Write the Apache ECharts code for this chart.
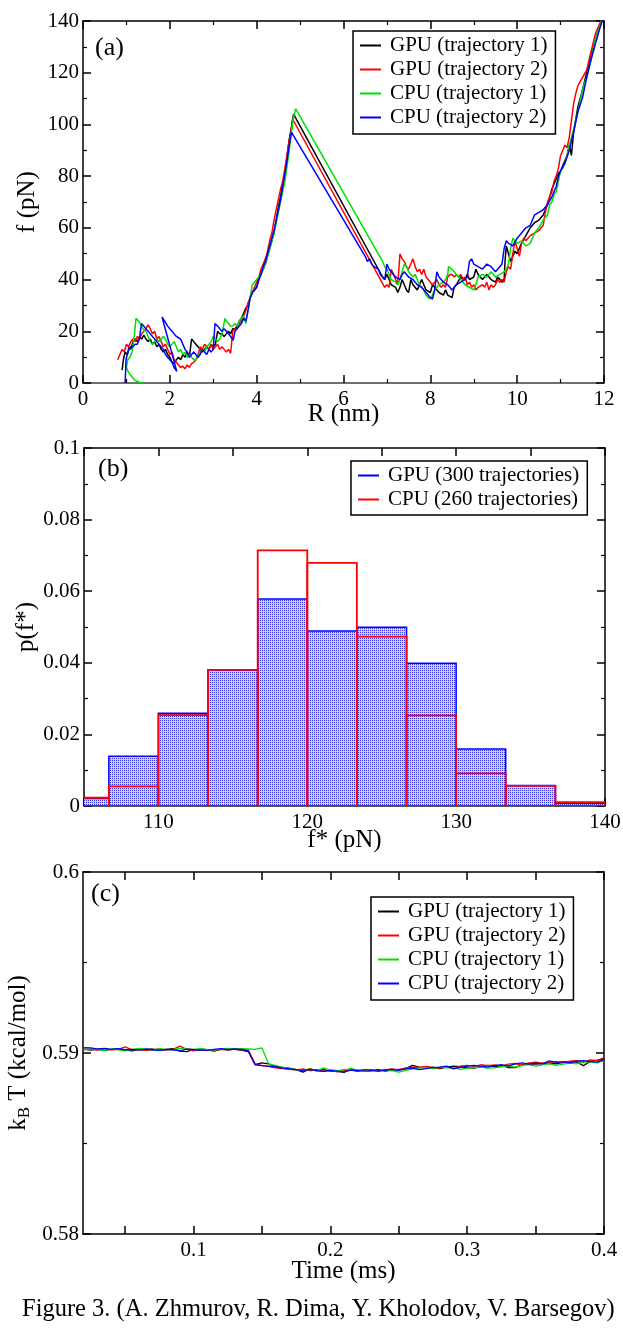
<!DOCTYPE html>
<html><head><meta charset="utf-8">
<script src="https://cdn.jsdelivr.net/npm/echarts@6/dist/echarts.min.js"></script>
<style>html,body{margin:0;padding:0;background:#fff}#c{width:623px;height:1333px}</style>
</head><body><div id="c"></div>
<script>
// ---------- Panel (a): force f (pN) vs end-to-end distance R (nm), [R, f] pairs ----------
const gpuTraj1 = [[0.9,5],[0.93,9],[0.97,12],[1.02,11],[1.06,14],[1.1,13],[1.15,16],[1.2,17],[1.25,16],[1.3,18],[1.35,17],[1.4,18.5],[1.45,17],[1.5,16],[1.55,17],[1.6,15],[1.65,16],[1.7,14],[1.75,15],[1.8,13],[1.85,12],[1.9,13],[1.95,11],[2.0,10],[2.05,8],[2.1,7.5],[2.15,9],[2.2,10],[2.25,9],[2.3,11],[2.35,10],[2.4,12],[2.45,10],[2.5,17],[2.55,16],[2.6,15],[2.65,14],[2.7,13],[2.75,12],[2.8,13],[2.85,14],[2.9,13],[2.95,15],[3.0,14],[3.05,15],[3.1,20],[3.15,19],[3.2,19],[3.25,18],[3.3,19],[3.35,20],[3.4,19],[3.45,21],[3.5,21],[3.55,22],[3.6,24],[3.65,25],[3.7,27],[3.75,29],[3.8,30],[3.85,33],[3.9,35],[3.95,36],[4.0,37],[4.05,40],[4.1,42],[4.15,44],[4.2,46],[4.25,49],[4.3,52],[4.35,55],[4.4,58],[4.45,63],[4.5,68],[4.55,72],[4.6,77],[4.65,81],[4.7,88],[4.75,94],[4.8,99],[4.85,104],[6.9,41],[6.95,40],[7.0,42],[7.05,40],[7.1,38],[7.2,37],[7.25,35],[7.3,37],[7.35,40],[7.4,38],[7.45,36],[7.5,35],[7.55,40],[7.6,38],[7.7,36],[7.75,38],[7.8,40],[7.85,38],[7.9,36],[8.0,35],[8.05,38],[8.1,37],[8.2,35],[8.3,34],[8.35,36],[8.4,34],[8.5,33],[8.55,37],[8.6,38],[8.7,41],[8.8,40],[8.85,42],[8.9,40],[9.0,41],[9.05,44],[9.1,42],[9.2,40],[9.3,42],[9.4,40],[9.5,39],[9.55,41],[9.6,40],[9.65,39],[9.7,40],[9.72,47],[9.75,53],[9.8,50],[9.85,47],[9.9,49],[9.95,51],[10.0,50],[10.05,52],[10.1,54],[10.2,57],[10.3,60],[10.4,62],[10.5,63],[10.6,65],[10.7,69],[10.75,72],[10.8,75],[10.85,77],[10.9,79],[10.95,81],[11.0,82],[11.05,84],[11.1,86],[11.15,88],[11.2,92],[11.25,88],[11.3,97],[11.4,107],[11.5,113],[11.6,120],[11.65,123],[11.7,127],[11.8,133],[11.9,138],[11.98,141]];
const gpuTraj2 = [[0.8,9],[0.85,11],[0.9,13],[0.95,12],[1.0,15],[1.05,14],[1.1,16],[1.15,17],[1.2,16],[1.25,18],[1.3,17],[1.35,19],[1.4,20],[1.45,21],[1.5,22.5],[1.55,21],[1.6,19],[1.65,20],[1.7,17],[1.75,18],[1.8,16],[1.85,14],[1.9,15],[1.95,13],[2.0,11],[2.05,12],[2.1,9],[2.15,8],[2.2,7],[2.25,6],[2.3,6.5],[2.35,5.5],[2.4,7],[2.45,6],[2.5,7.5],[2.55,8],[2.6,9],[2.65,11],[2.7,14],[2.75,13],[2.8,15],[2.85,14],[2.9,13],[2.95,15],[3.0,13],[3.05,14],[3.1,15],[3.15,13],[3.2,14],[3.25,13],[3.3,12],[3.35,13],[3.4,11.5],[3.45,20],[3.5,21],[3.55,21],[3.6,23],[3.65,24],[3.7,26],[3.75,28],[3.8,31],[3.85,33],[3.9,35],[3.95,37],[4.0,39],[4.05,41],[4.1,44],[4.15,46],[4.2,48],[4.25,51],[4.3,55],[4.35,58],[4.4,63],[4.45,67],[4.5,71],[4.55,75],[4.6,78],[4.65,83],[4.7,88],[4.75,94],[4.8,98],[4.83,102],[6.95,37],[7.0,38],[7.05,37],[7.1,44],[7.15,42],[7.2,40],[7.25,38],[7.3,50],[7.35,48],[7.4,47],[7.45,45],[7.5,44],[7.55,46],[7.6,48],[7.65,45],[7.7,43],[7.75,44],[7.8,42],[7.85,44],[7.9,41],[7.95,40],[8.0,39],[8.05,38],[8.1,39],[8.15,40],[8.2,38],[8.25,37],[8.3,38],[8.35,37],[8.4,41],[8.45,42],[8.5,42],[8.55,41],[8.6,42],[8.65,41],[8.7,42],[8.75,40],[8.8,41],[8.85,38],[8.9,39],[8.95,37],[9.0,38],[9.05,36],[9.1,37],[9.2,38],[9.25,37],[9.3,39],[9.35,36],[9.4,38],[9.45,37],[9.5,38],[9.55,40],[9.6,39],[9.65,40],[9.7,39],[9.75,43],[9.8,45],[9.85,44],[9.9,50],[9.95,55],[10.0,52],[10.05,49],[10.1,54],[10.15,56],[10.2,55],[10.3,57],[10.4,58],[10.5,59],[10.6,61],[10.65,66],[10.7,70],[10.75,72],[10.8,74],[10.85,78],[10.9,80],[10.95,83],[11.0,88],[11.05,90],[11.1,92],[11.15,91],[11.2,95],[11.3,108],[11.35,112],[11.4,115],[11.5,118],[11.6,121],[11.7,128],[11.8,135],[11.9,139],[11.97,141]];
const cpuTraj1 = [[1.4,0],[1.3,0.3],[1.2,1],[1.12,2.5],[1.05,4],[1.0,6],[1.03,9],[1.08,10],[1.13,12],[1.18,18],[1.22,25],[1.28,24],[1.32,23],[1.38,21],[1.45,20],[1.5,18],[1.55,16],[1.6,15],[1.65,16],[1.7,17],[1.75,16],[1.8,17],[1.85,18],[1.9,17],[1.95,15],[2.0,14],[2.05,15],[2.1,16],[2.15,14],[2.2,12],[2.25,13],[2.3,11],[2.35,12],[2.4,10],[2.45,11],[2.5,10],[2.55,9],[2.6,9],[2.65,10],[2.7,12],[2.75,13],[2.8,12],[2.85,14],[2.9,15],[2.95,16],[3.0,18],[3.05,17],[3.1,16],[3.15,17],[3.2,19],[3.27,25],[3.3,24],[3.35,23],[3.4,22],[3.45,22],[3.5,23],[3.55,22],[3.6,24],[3.65,25],[3.7,26],[3.75,23],[3.8,28],[3.85,33],[3.9,38],[3.95,39],[4.0,40],[4.05,41],[4.1,42],[4.15,44],[4.2,46],[4.25,49],[4.3,52],[4.35,55],[4.4,58],[4.45,62],[4.5,66],[4.55,70],[4.6,74],[4.65,78],[4.7,84],[4.75,90],[4.8,97],[4.85,103],[4.9,106],[6.9,47],[6.95,45],[7.0,44],[7.05,42],[7.1,40],[7.2,39],[7.25,38],[7.3,40],[7.35,43],[7.4,46],[7.45,45],[7.5,43],[7.55,42],[7.6,41],[7.65,42],[7.7,40],[7.75,38],[7.8,37],[7.85,36],[7.9,34],[7.95,33],[8.0,32.5],[8.05,34],[8.1,36],[8.15,37],[8.2,38],[8.3,39],[8.35,40],[8.4,42],[8.42,45],[8.5,44],[8.55,43],[8.6,42],[8.7,40],[8.8,38],[8.9,37],[9.0,36],[9.05,38],[9.1,41],[9.2,42],[9.3,41],[9.4,43],[9.5,41],[9.6,42],[9.7,43],[9.75,44],[9.8,46],[9.85,52],[9.9,56],[9.95,55],[10.0,54],[10.1,55],[10.2,53],[10.3,54],[10.4,58],[10.5,60],[10.6,63],[10.7,65],[10.75,69],[10.8,70],[10.85,73],[10.9,74],[10.95,78],[11.0,82],[11.05,83],[11.1,85],[11.15,88],[11.2,92],[11.3,98],[11.4,105],[11.5,113],[11.55,116],[11.6,118],[11.7,125],[11.8,133],[11.9,138],[11.98,141]];
const cpuTraj2 = [[0.97,0],[0.98,4],[0.99,9],[1.02,11],[1.06,13],[1.1,14],[1.15,14],[1.2,15],[1.25,15],[1.3,17],[1.33,21],[1.35,23],[1.4,22],[1.45,21],[1.5,20],[1.55,19],[1.6,18],[1.65,17],[1.7,16],[1.75,15],[1.8,14],[1.85,13],[1.9,11],[1.95,10],[2.0,9],[2.05,8],[2.1,6],[2.16,4.5],[1.82,25.5],[1.88,24],[1.95,22],[2.0,21],[2.05,20],[2.1,19],[2.15,18],[2.2,17.5],[2.25,17],[2.3,15],[2.35,13],[2.4,12],[2.45,10],[2.5,11],[2.55,12],[2.6,11],[2.65,10],[2.7,11],[2.75,13],[2.8,12],[2.85,11],[2.9,13],[2.95,12],[3.0,13],[3.02,18],[3.04,23],[3.1,22],[3.15,21],[3.2,20],[3.25,21],[3.3,20],[3.35,19],[3.4,18],[3.46,16.5],[3.5,20],[3.55,21],[3.6,22],[3.65,23],[3.7,25],[3.75,24],[3.8,28],[3.85,33],[3.9,35],[3.95,36],[4.0,37],[4.05,40],[4.1,42],[4.15,45],[4.2,47],[4.25,50],[4.3,53],[4.35,56],[4.4,59],[4.45,63],[4.5,67],[4.55,71],[4.6,76],[4.65,81],[4.7,86],[4.75,92],[4.8,97],[6.5,49],[6.55,47],[6.6,48],[6.65,46],[6.7,45],[6.8,44],[6.85,42],[6.9,41],[6.95,40],[7.0,46],[7.05,44],[7.1,43],[7.15,42],[7.2,41],[7.3,40],[7.35,42],[7.4,43],[7.45,42],[7.5,41],[7.6,40],[7.7,38],[7.8,37],[7.85,36],[7.9,35],[7.95,34],[8.0,33],[8.05,32.5],[8.1,36],[8.15,43],[8.2,41],[8.25,40],[8.3,39],[8.4,38],[8.45,37],[8.5,36],[8.55,37],[8.6,38],[8.7,39],[8.8,40],[8.85,41],[8.9,47],[8.95,48],[9.0,46],[9.1,45],[9.2,44],[9.3,46],[9.4,45],[9.5,43],[9.55,44],[9.6,45],[9.65,46],[9.7,52],[9.75,55],[9.8,54],[9.9,53],[10.0,56],[10.1,58],[10.2,60],[10.3,61],[10.4,65],[10.5,66],[10.6,67],[10.7,69],[10.8,72],[10.9,76],[10.95,80],[11.0,82],[11.1,85],[11.2,90],[11.3,97],[11.4,105],[11.5,110],[11.6,118],[11.7,125],[11.8,131],[11.9,137],[11.98,141]];
const namesA = ['GPU (trajectory 1)','GPU (trajectory 2)','CPU (trajectory 1)','CPU (trajectory 2)'];

// ---------- Panel (b): histogram of unfolding force f* ----------
const binLo = [103.33,106.67,110,113.33,116.67,120,123.33,126.67,130,133.33,136.67];
const binHi = [106.67,110,113.33,116.67,120,123.33,126.67,130,133.33,136.67,140];
const gpuP = [0.0021,0.0139,0.0259,0.038,0.0578,0.0489,0.0499,0.0399,0.0159,0.0057,0.0008];
const cpuP = [0.0023,0.0055,0.0254,0.038,0.0714,0.0679,0.0473,0.0253,0.0091,0.0056,0.0011];
const namesB = ['GPU (300 trajectories)','CPU (260 trajectories)'];

// ---------- Panel (c): kBT (kcal/mol) vs time (ms) ----------
const timeMs = [0.020,0.025,0.030,0.035,0.040,0.045,0.050,0.055,0.060,0.065,
0.070,0.075,0.080,0.085,0.090,0.095,0.100,0.105,0.110,0.115,
0.120,0.125,0.130,0.135,0.140,0.145,0.150,0.155,0.160,0.165,
0.170,0.175,0.180,0.185,0.190,0.195,0.200,0.205,0.210,0.215,
0.220,0.225,0.230,0.235,0.240,0.245,0.250,0.255,0.260,0.265,
0.270,0.275,0.280,0.285,0.290,0.295,0.300,0.305,0.310,0.315,
0.320,0.325,0.330,0.335,0.340,0.345,0.350,0.355,0.360,0.365,
0.370,0.375,0.380,0.385,0.390,0.395,0.400];
const kT_gpu1 = [.59020,.59016,.59022,.59014,.59020,.59024,.59016,.59012,.59020,.59018,
.59022,.59014,.59020,.59024,.59010,.59008,.59020,.59016,.59018,.59010,
.59020,.59022,.59020,.59016,.59008,.58936,.58946,.58940,.58924,.58920,
.58916,.58908,.58894,.58912,.58904,.58908,.58900,.58898,.58893,.58912,
.58904,.58898,.58902,.58908,.58900,.58905,.58910,.58914,.58932,.58922,
.58918,.58920,.58914,.58922,.58928,.58924,.58920,.58916,.58925,.58932,
.58924,.58930,.58920,.58919,.58934,.58940,.58938,.58942,.58945,.58940,
.58948,.58952,.58950,.58930,.58955,.58960,.58968];
const kT_gpu2 = [.59022,.59020,.59016,.59024,.59018,.59020,.59034,.59018,.59020,.59014,
.59018,.59022,.59016,.59020,.59038,.59020,.59012,.59022,.59018,.59014,
.59020,.59016,.59022,.59018,.59016,.58940,.58930,.58925,.58918,.58914,
.58910,.58905,.58912,.58902,.58908,.58898,.58904,.58896,.58902,.58906,
.58898,.58904,.58908,.58902,.58906,.58912,.58906,.58918,.58922,.58920,
.58926,.58920,.58918,.58922,.58915,.58928,.58932,.58926,.58935,.58930,
.58934,.58928,.58938,.58942,.58932,.58946,.58950,.58944,.58948,.58952,
.58946,.58955,.58958,.58950,.58962,.58958,.58975];
const kT_cpu1 = [.59018,.59024,.59020,.59014,.59022,.59018,.59012,.59020,.59026,.59022,
.59016,.59024,.59020,.59018,.59026,.59022,.59020,.59024,.59018,.59016,
.59022,.59026,.59020,.59024,.59022,.59020,.59028,.58938,.58932,.58920,
.58915,.58908,.58904,.58912,.58900,.58918,.58906,.58902,.58908,.58912,
.58906,.58900,.58904,.58898,.58908,.58902,.58894,.58904,.58912,.58916,
.58920,.58914,.58922,.58918,.58920,.58910,.58916,.58920,.58924,.58916,
.58918,.58924,.58928,.58922,.58930,.58936,.58928,.58934,.58940,.58932,
.58938,.58944,.58940,.58952,.58950,.58946,.58958];
const kT_cpu2 = [.59030,.59028,.59022,.59026,.59020,.59024,.59018,.59020,.59016,.59022,
.59018,.59014,.59020,.59018,.59012,.59022,.59018,.59016,.59014,.59020,
.59024,.59018,.59022,.59020,.59012,.58935,.58930,.58928,.58924,.58916,
.58912,.58908,.58904,.58910,.58902,.58898,.58904,.58900,.58896,.58906,
.58902,.58908,.58904,.58900,.58906,.58910,.58904,.58912,.58916,.58908,
.58914,.58920,.58922,.58928,.58912,.58920,.58928,.58932,.58926,.58922,
.58930,.58936,.58928,.58940,.58946,.58938,.58944,.58940,.58956,.58948,
.58952,.58946,.58955,.58958,.58952,.58950,.58962];
const timeLabels = [0.1,0.2,0.3,0.4];
const timeTicks = [0.05,0.1,0.15,0.2,0.25,0.3,0.35,0.4];

// ---------- styling ----------
const FONT = 'Liberation Serif';
const colors = ['#000000','#ff0000','#00e000','#0000ff'];
const chart = echarts.init(document.getElementById('c'), null, {renderer:'canvas'});

function makePattern(){
  const c = document.createElement('canvas'); c.width = 2; c.height = 2;
  const g = c.getContext('2d');
  g.fillStyle = '#d2d2fa'; g.fillRect(0,0,2,2);
  g.fillStyle = '#3434e4'; g.fillRect(0,0,1,1);
  return c;
}
const pat = {image: makePattern(), repeat: 'repeat'};

function axLine(color, w){ return {show:true, onZero:false, lineStyle:{color:color||'#000', width:w||1.5}}; }
const tick = {show:true, inside:true, length:8, lineStyle:{color:'#000', width:1.5}};
const minor = {show:true, splitNumber:2, length:4, lineStyle:{color:'#000', width:1.2}};
const lbl = {color:'#000', fontFamily:FONT, fontSize:21};
const nameStyle = {color:'#000', fontFamily:FONT, fontSize:25};

function mirrorX(gi, min, max, interval){
  return {gridIndex:gi, type:'value', position:'top', min, max, interval,
    axisLine:axLine(), axisTick:tick, minorTick:minor, axisLabel:{show:false}, splitLine:{show:false}};
}
function mirrorY(gi, min, max, interval){
  return {gridIndex:gi, type:'value', position:'right', min, max, interval,
    axisLine:axLine(), axisTick:tick, minorTick:minor, axisLabel:{show:false}, splitLine:{show:false}};
}

const series = [];
[gpuTraj1, gpuTraj2, cpuTraj1, cpuTraj2].forEach((d,i)=>{
  series.push({type:'line', name:namesA[i], xAxisIndex:0, yAxisIndex:0, data:d,
    showSymbol:false, symbol:'none', clip:true, color:colors[i],
    lineStyle:{color:colors[i], width:1.5}, animation:false});
});
function histItem(fill, stroke, lw){
  return (params, api)=>{
    const a = api.coord([api.value(0), api.value(2)]);
    const b = api.coord([api.value(1), 0]);
    return {type:'rect', shape:{x:a[0], y:a[1], width:b[0]-a[0], height:b[1]-a[1]},
      style:{fill:fill, stroke:stroke, lineWidth:lw}};
  };
}
series.push({type:'custom', name:namesB[0], xAxisIndex:2, yAxisIndex:2, clip:true,
  itemStyle:{color:'#0000ff'},
  data: binLo.map((lo,i)=>[lo, binHi[i], gpuP[i]]),
  encode:{x:[0,1], y:2},
  renderItem: histItem(pat, '#0000ff', 1.5), animation:false, z:2});
series.push({type:'custom', name:namesB[1], xAxisIndex:2, yAxisIndex:2, clip:true,
  itemStyle:{color:'#ff0000'},
  data: binLo.map((lo,i)=>[lo, binHi[i], cpuP[i]]),
  encode:{x:[0,1], y:2},
  renderItem: histItem('none', '#ff0000', 1.8), animation:false, z:3});
[kT_gpu1, kT_gpu2, kT_cpu1, kT_cpu2].forEach((d,i)=>{
  series.push({type:'line', name:namesA[i], xAxisIndex:4, yAxisIndex:4,
    data: timeMs.map((t,j)=>[t, d[j]]),
    showSymbol:false, symbol:'none', clip:true, color:colors[i],
    lineStyle:{color:colors[i], width:1.3}, animation:false});
});

const legendBase = {orient:'vertical', icon:'rect', itemWidth:21, itemHeight:2, itemGap:3,
  borderColor:'#000', borderWidth:1.5, backgroundColor:'#fff', borderRadius:0, selectedMode:false,
  textStyle:{fontFamily:FONT, fontSize:21, color:'#000', padding:[0,0,0,4]}};

const option = {
  animation:false,
  backgroundColor:'#fff',
  grid:[
    {left:83, top:21, width:521, height:362, outerBoundsMode:'none'},
    {left:84, top:448, width:521, height:358, outerBoundsMode:'none'},
    {left:83, top:872, width:521, height:362, outerBoundsMode:'none'}
  ],
  xAxis:[
    {gridIndex:0, type:'value', position:'bottom', min:0, max:12, interval:2,
      axisLine:axLine('#6e6e6e',2.2), axisTick:tick, minorTick:minor, splitLine:{show:false},
      axisLabel:Object.assign({margin:6}, lbl),
      name:'R (nm)', nameLocation:'middle', nameGap:19, nameMoveOverlap:false, nameTextStyle:nameStyle},
    mirrorX(0, 0, 12, 2),
    {gridIndex:1, type:'value', position:'bottom', min:105, max:140, interval:5,
      axisLine:axLine('#555',2), axisTick:tick, splitLine:{show:false},
      axisLabel:Object.assign({margin:6, formatter:v=> (v%10===0 ? String(v) : '')}, lbl),
      name:'f* (pN)', nameLocation:'middle', nameGap:22, nameMoveOverlap:false, nameTextStyle:nameStyle},
    {gridIndex:1, type:'value', position:'top', min:105, max:140, interval:5,
      axisLine:axLine(), axisTick:tick, axisLabel:{show:false}, splitLine:{show:false}},
    {gridIndex:2, type:'value', position:'bottom', min:0.0192, max:0.4,
      axisLine:axLine(), axisTick:Object.assign({customValues:timeTicks}, tick), splitLine:{show:false},
      axisLabel:Object.assign({margin:6, customValues:timeLabels}, lbl),
      name:'Time (ms)', nameLocation:'middle', nameGap:25, nameMoveOverlap:false, nameTextStyle:nameStyle},
    {gridIndex:2, type:'value', position:'top', min:0.0192, max:0.4,
      axisLine:axLine(), axisTick:Object.assign({customValues:timeTicks}, tick), axisLabel:{show:false}, splitLine:{show:false}}
  ],
  yAxis:[
    {gridIndex:0, type:'value', position:'left', min:0, max:140, interval:20,
      axisLine:axLine(), axisTick:tick, minorTick:minor, splitLine:{show:false},
      axisLabel:Object.assign({margin:4}, lbl),
      name:'f (pN)', nameLocation:'middle', nameGap:43, nameMoveOverlap:false, nameTextStyle:nameStyle},
    mirrorY(0, 0, 140, 20),
    {gridIndex:1, type:'value', position:'left', min:0, max:0.1, interval:0.02,
      axisLine:axLine(), axisTick:tick, minorTick:minor, splitLine:{show:false},
      axisLabel:Object.assign({margin:4}, lbl),
      name:'p(f*)', nameLocation:'middle', nameGap:45, nameMoveOverlap:false, nameTextStyle:nameStyle},
    mirrorY(1, 0, 0.1, 0.02),
    {gridIndex:2, type:'value', position:'left', min:0.58, max:0.6, interval:0.01,
      axisLine:axLine(), axisTick:tick, minorTick:minor, splitLine:{show:false},
      axisLabel:Object.assign({margin:4}, lbl),
      name:'{n|k}{s|B}{n| T (kcal/mol)}', nameLocation:'middle', nameGap:50, nameMoveOverlap:false,
      nameTextStyle:Object.assign({rich:{
        n:{fontFamily:FONT, fontSize:25, color:'#000'},
        s:{fontFamily:FONT, fontSize:17, color:'#000', padding:[12,0,0,0]}}}, nameStyle)},
    mirrorY(2, 0.58, 0.6, 0.01)
  ],
  legend:[
    Object.assign({}, legendBase, {left:353, top:31, padding:[4,8,6,7], data:namesA}),
    Object.assign({}, legendBase, {left:351, top:461, padding:[4,8,5,7],
      data:[{name:namesB[0], itemStyle:{color:'#0000ff'}},{name:namesB[1], itemStyle:{color:'#ff0000'}}]}),
    Object.assign({}, legendBase, {left:371, top:897, padding:[4,8,6,7], data:namesA})
  ],
  graphic:[
    {type:'text', left:95, top:35, style:{text:'(a)', font:'26px "Liberation Serif"', fill:'#000'}},
    {type:'text', left:98, top:456, style:{text:'(b)', font:'26px "Liberation Serif"', fill:'#000'}},
    {type:'text', left:91, top:881, style:{text:'(c)', font:'26px "Liberation Serif"', fill:'#000'}},
    {type:'text', left:22, top:1297, style:{text:'Figure 3. (A. Zhmurov, R. Dima, Y. Kholodov, V. Barsegov)', font:'24.5px "Liberation Serif"', fill:'#000'}}
  ],
  series
};
chart.setOption(option);
</script></body></html>
